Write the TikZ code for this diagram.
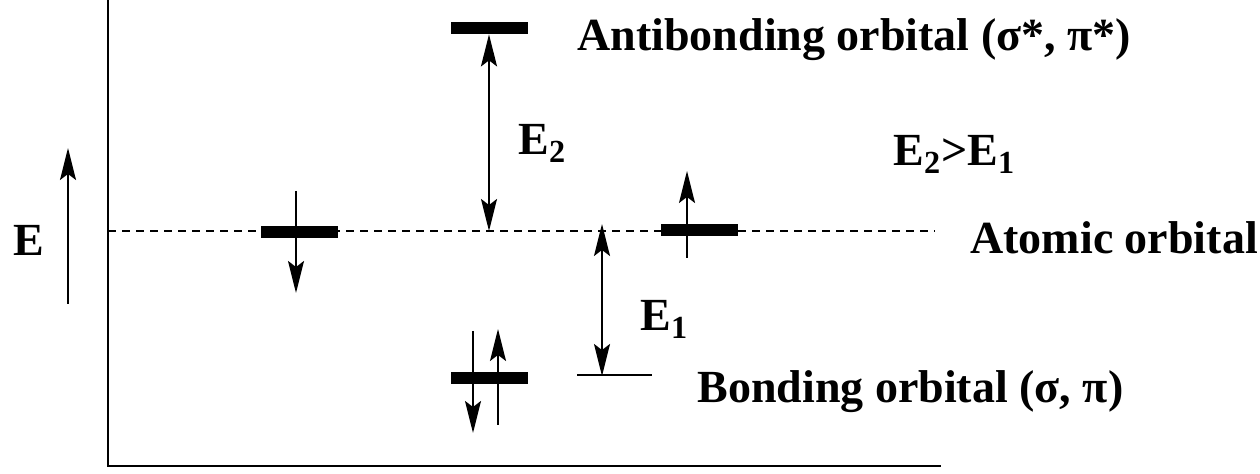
\documentclass[tikz,border=0pt]{standalone}
\usepackage{fontspec}
\setmainfont{Liberation Serif}
\usetikzlibrary{arrows.meta}

\begin{document}
\begin{tikzpicture}[
  x=0.5pt,y=-0.5pt,
  tip/.tip={Stealth[length=16pt,width=8pt,inset=3pt]},
  level/.style={fill=black,inner sep=0pt,minimum width=38.5pt,minimum height=6pt},
  lbl/.style={anchor=base west,inner sep=0pt,font=\fontsize{23}{27}\selectfont\bfseries},
  line/.style={line width=1pt},
  spin/.style={-tip,line width=1pt},
  gap/.style={tip-tip,line width=1pt}
]
  \useasboundingbox (0,0) rectangle (1260,474);

  % axes
  \coordinate (top) at (108,0);
  \coordinate (origin) at (108,466);
  \coordinate (xend) at (941,466);
  \draw[line] (top) -- (origin) -- (xend);

  % atomic level (dashed)
  \coordinate (aL) at (108,231);
  \coordinate (aR) at (935,231);
  \draw[line,dash pattern=on 4pt off 3pt] (aL) -- (aR);

  % levels
  \node[level] (anti) at (489,28) {};
  \node[level] (atomL) at (299,232) {};
  \node[level] (atomR) at (699,230) {};
  \node[level] (bond) at (489,378) {};

  % E2 gap
  \coordinate (mid) at (489,231);
  \draw[gap] (anti.south) -- (mid);

  % E1 gap
  \coordinate (refL) at (577,375);
  \coordinate (refR) at (652,375);
  \coordinate (refT) at (602,224);
  \coordinate (refB) at (602,376);
  \draw[line] (refL) -- (refR);
  \draw[gap] (refT) -- (refB);

  % spins
  \coordinate (s1a) at (296,191); \coordinate (s1b) at (296,293);
  \coordinate (s2a) at (687,258); \coordinate (s2b) at (687,171);
  \coordinate (s3a) at (473,331); \coordinate (s3b) at (473,433);
  \coordinate (s4a) at (498,425); \coordinate (s4b) at (498,329);
  \draw[spin] (s1a) -- (s1b);
  \draw[spin] (s2a) -- (s2b);
  \draw[spin] (s3a) -- (s3b);
  \draw[spin] (s4a) -- (s4b);

  % energy axis
  \coordinate (eA) at (68,304);
  \coordinate (eB) at (68,148);
  \draw[spin] (eA) -- (eB);
  \node[lbl] (elbl) at (13,256) {E};

  % labels
  \node[lbl] (antilbl) at (577,51) {Antibonding orbital (σ*, π*)};
  \node[lbl] (cmp) at (893,166) {E\textsubscript{2}>E\textsubscript{1}};
  \node[lbl] (atomlbl) at (970,254) {Atomic orbital};
  \node[lbl] (bondlbl) at (697,403) {Bonding orbital (σ, π)};
  \node[lbl] (e2lbl) at (518,155) {E\textsubscript{2}};
  \node[lbl] (e1lbl) at (640,331) {E\textsubscript{1}};
\end{tikzpicture}
\end{document}
